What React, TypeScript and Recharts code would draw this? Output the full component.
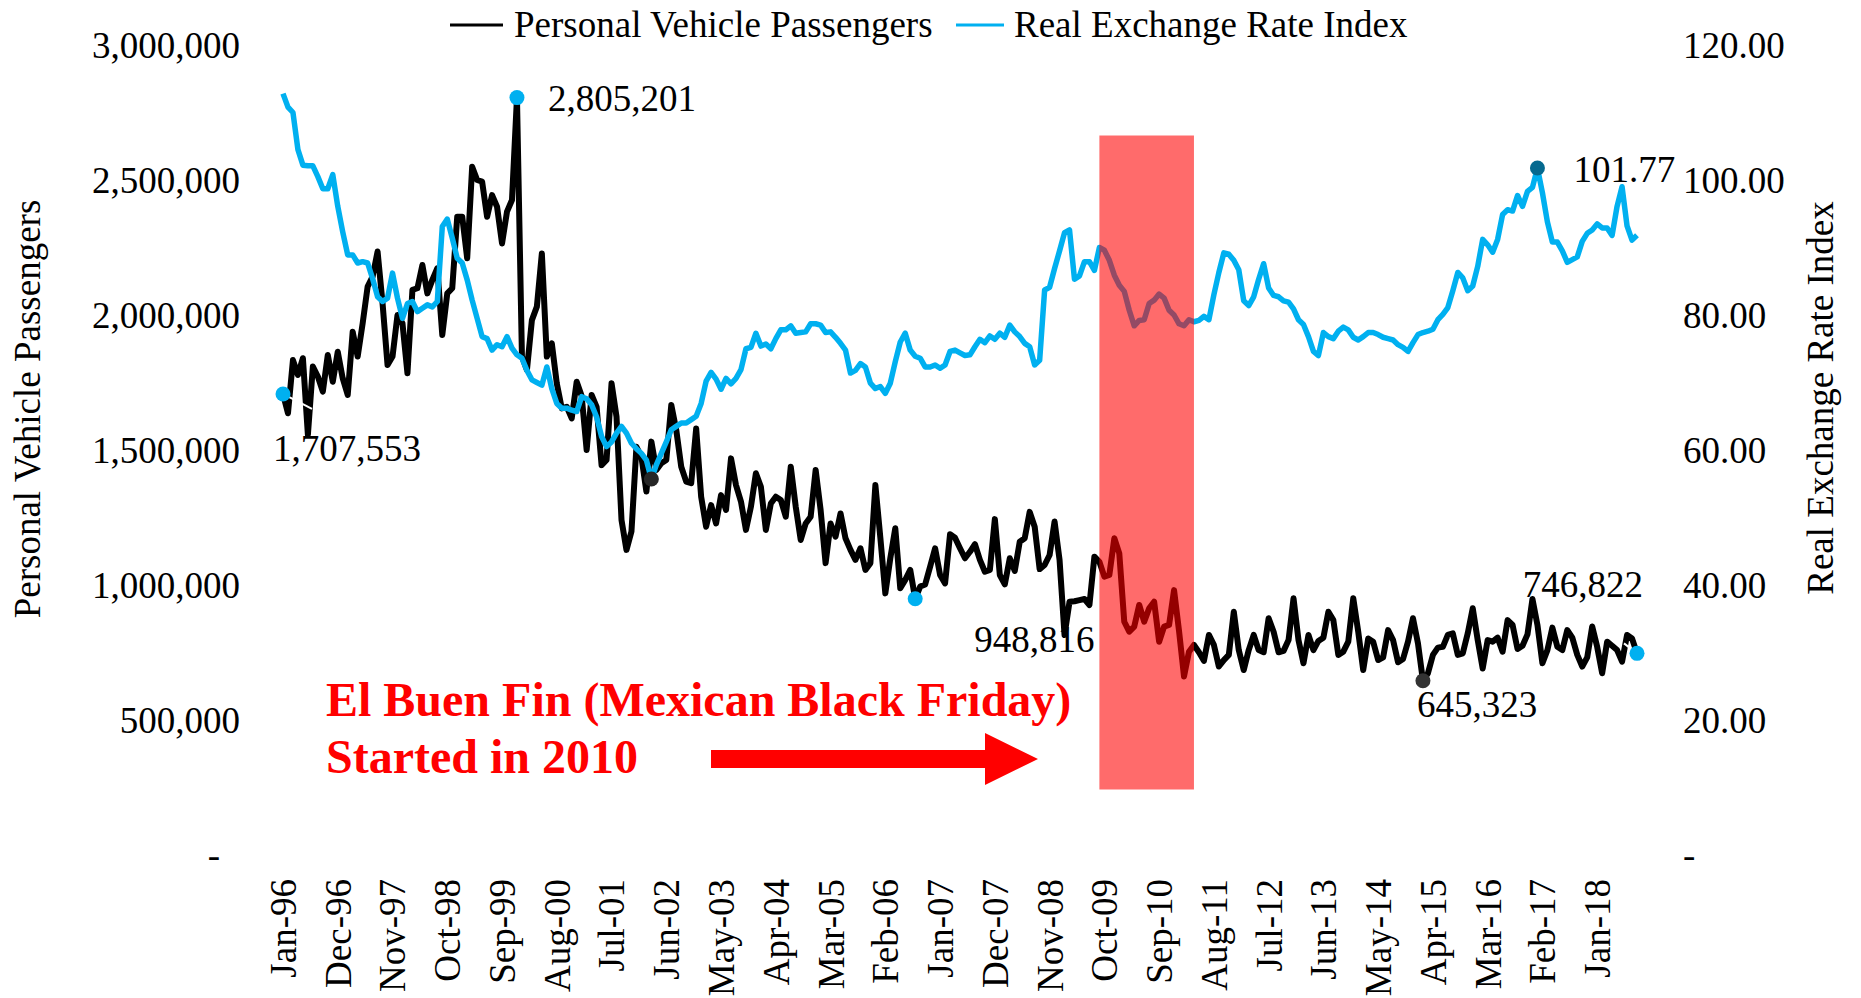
import { LineChart, Line, XAxis, YAxis, ReferenceArea } from 'recharts'

const MONTHS = ['Jan', 'Feb', 'Mar', 'Apr', 'May', 'Jun', 'Jul', 'Aug', 'Sep', 'Oct', 'Nov', 'Dec']

// monthly, Jan-96 .. Sep-18
const passengers = [
    1707553, 1636000, 1833000, 1778000, 1840000, 1556000, 1809000, 1772000, 1716000, 1852000,
    1753000, 1864000, 1765000, 1704000, 1938000, 1846000, 1969000, 2105000, 2142000, 2235000,
    2043000, 1815000, 1846000, 2000000, 1969000, 1784000, 2093000, 2099000, 2185000, 2080000,
    2130000, 2173000, 1926000, 2080000, 2099000, 2364000, 2364000, 2210000, 2549000, 2500000,
    2494000, 2364000, 2444000, 2401000, 2265000, 2383000, 2426000, 2805201, 1846000, 1796000,
    1981000, 2031000, 2228000, 1846000, 1895000, 1747000, 1654000, 1660000, 1617000, 1753000,
    1700000, 1500000, 1704000, 1660000, 1444000, 1463000, 1747000, 1623000, 1241000, 1130000,
    1198000, 1512000, 1475000, 1346000, 1531000, 1426000, 1451000, 1463000, 1667000, 1574000,
    1438000, 1383000, 1377000, 1580000, 1327000, 1216000, 1296000, 1228000, 1333000, 1278000,
    1469000, 1370000, 1309000, 1204000, 1290000, 1414000, 1364000, 1204000, 1302000, 1327000,
    1315000, 1253000, 1438000, 1290000, 1167000, 1228000, 1253000, 1426000, 1278000, 1081000,
    1228000, 1179000, 1265000, 1173000, 1130000, 1093000, 1136000, 1056000, 1081000, 1370000,
    1175000, 969000, 1099000, 1210000, 988000, 1019000, 1056000, 948816, 994000, 1002000,
    1068000, 1136000, 1037000, 1006000, 1188000, 1175000, 1136000, 1099000, 1123000, 1151000,
    1093000, 1049000, 1056000, 1244000, 1037000, 1002000, 1099000, 1052000, 1160000, 1173000,
    1271000, 1216000, 1059000, 1074000, 1111000, 1235000, 1093000, 815000, 938000, 940000,
    944000, 948000, 926000, 1105000, 1086000, 1031000, 1037000, 1173000, 1117000, 864000,
    827000, 846000, 926000, 864000, 914000, 938000, 790000, 846000, 852000, 981000,
    830000, 661000, 753000, 778000, 751000, 719000, 815000, 778000, 698000, 722000,
    741000, 901000, 759000, 685000, 759000, 815000, 759000, 751000, 877000, 827000,
    751000, 756000, 796000, 951000, 796000, 710000, 815000, 759000, 793000, 805000,
    901000, 870000, 741000, 753000, 790000, 951000, 827000, 685000, 802000, 790000,
    722000, 732000, 833000, 796000, 714000, 726000, 790000, 877000, 784000, 645323,
    673000, 741000, 768000, 771000, 815000, 821000, 741000, 747000, 821000, 914000,
    796000, 691000, 796000, 790000, 805000, 753000, 870000, 852000, 763000, 775000,
    817000, 948000, 852000, 710000, 759000, 842000, 771000, 759000, 833000, 805000,
    741000, 698000, 732000, 846000, 771000, 673000, 790000, 775000, 759000, 716000,
    815000, 802000, 746822,
]

const exchangeRate = [
    112.8, 110.8, 110.0, 104.5, 102.2, 102.1, 102.1, 100.5, 98.7, 98.7,
    100.8, 96.1, 92.3, 88.9, 88.9, 87.7, 87.9, 87.7, 85.4, 82.7,
    82.0, 82.5, 86.2, 82.5, 79.5, 81.7, 82.0, 80.5, 81.0, 81.5,
    81.2, 82.0, 93.1, 94.2, 91.4, 88.4, 87.7, 85.2, 82.2, 79.5,
    76.8, 76.5, 74.8, 75.6, 75.3, 76.8, 75.1, 74.1, 73.6, 71.8,
    70.4, 70.0, 69.6, 72.3, 69.1, 66.9, 66.2, 66.2, 65.9, 65.7,
    67.9, 67.6, 66.7, 64.9, 62.0, 60.5, 61.2, 62.5, 63.5, 62.5,
    61.0, 60.2, 59.5, 58.5, 55.7, 57.8, 59.5, 61.2, 63.0, 63.5,
    64.0, 64.0, 64.5, 65.0, 66.9, 70.2, 71.5, 70.5, 69.0, 70.6,
    69.8, 70.6, 71.9, 75.0, 75.2, 77.3, 75.4, 75.7, 75.0, 76.5,
    77.8, 77.8, 78.4, 77.3, 77.4, 77.5, 78.7, 78.7, 78.5, 77.4,
    77.5, 76.7, 75.8, 74.8, 71.4, 71.8, 72.8, 72.3, 69.9, 69.1,
    69.4, 68.4, 69.9, 73.1, 76.0, 77.3, 74.8, 73.9, 73.6, 72.3,
    72.3, 72.6, 72.1, 72.6, 74.6, 74.8, 74.4, 74.0, 74.1, 75.3,
    76.4, 75.9, 76.9, 76.4, 77.3, 76.7, 78.5, 77.5, 76.8, 75.8,
    75.3, 72.6, 73.3, 83.7, 84.1, 86.9, 89.5, 92.2, 92.6, 85.3,
    85.8, 87.9, 87.9, 86.6, 90.0, 89.6, 88.1, 85.9, 84.4, 83.5,
    80.7, 78.4, 79.2, 79.3, 81.7, 82.2, 83.1, 82.5, 80.7, 80.0,
    78.7, 78.4, 79.3, 79.0, 79.2, 79.8, 79.3, 83.0, 86.3, 89.2,
    89.0, 88.1, 86.7, 82.1, 81.4, 82.7, 85.3, 87.6, 84.0, 82.9,
    82.7, 82.1, 81.9, 80.9, 79.3, 78.6, 76.8, 74.6, 74.0, 77.4,
    76.8, 76.5, 77.6, 78.2, 77.8, 76.7, 76.3, 76.8, 77.4, 77.4,
    77.1, 76.7, 76.5, 76.3, 75.6, 75.2, 74.6, 75.9, 77.1, 77.4,
    77.6, 77.9, 79.3, 80.1, 81.1, 83.6, 86.3, 85.5, 83.6, 84.3,
    87.2, 91.2, 90.4, 89.3, 91.2, 94.9, 95.6, 95.4, 97.7, 96.1,
    98.3, 98.9, 101.77, 98.1, 93.8, 90.8, 90.8, 89.5, 87.8, 88.2,
    88.6, 90.9, 92.1, 92.6, 93.5, 92.9, 92.9, 91.8, 96.1, 99.0,
    93.2, 91.1, 91.8,
]

const monthLabels = passengers.map(
    (_, i) => `${MONTHS[i % 12]}-${String((96 + Math.floor(i / 12)) % 100).padStart(2, '0')}`
)

const leftTicks = [0, 500000, 1000000, 1500000, 2000000, 2500000, 3000000]
const rightTicks = [0, 20, 40, 60, 80, 100, 120]

// El Buen Fin shading
const shadeStart = 'Sep-09'
const shadeEnd = 'Apr-11'
const shadeLow = 243000
const shadeHigh = 2665000

const data = monthLabels.map((label, i) => ({
    label,
    passengers: passengers[i],
    rate: exchangeRate[i],
}))

const FONT = '"Liberation Serif", "Times New Roman", serif'
const BLUE = '#00B0F0'

type Callout = {
    index: number
    color: string
    text?: string
    dx?: number
    dy?: number
    anchor?: 'start' | 'end'
    leader?: [number, number]
}

const passengerCallouts: Callout[] = [
    { index: 0, color: BLUE, dx: -10, dy: 67, anchor: 'start', leader: [29, 15] },
    { index: 47, color: BLUE, dx: 31, dy: 13, anchor: 'start' },
    { index: 127, color: BLUE, dx: 59, dy: 53, anchor: 'start' },
    { index: 229, color: '#333333', dx: -6, dy: 36, anchor: 'start' },
    { index: 272, color: BLUE, dx: 6, dy: -56, anchor: 'end', leader: [-13, -10] },
].map((c) => ({ ...c, text: passengers[c.index].toLocaleString('en-US') })) as Callout[]

const rateCallouts: Callout[] = [
    { index: 74, color: '#262626' },
    { index: 252, color: '#05698F', dx: 36, dy: 14, anchor: 'start', text: exchangeRate[252].toFixed(2) },
]

const makeDot = (callouts: Callout[]) => (props: any) => {
    const { cx, cy, index } = props
    const c = callouts.find((m) => m.index === index)
    if (!c) return <g key={`dot-${index}`} />
    return (
        <g key={`dot-${index}`}>
            {c.leader && (
                <line x1={cx} y1={cy} x2={cx + c.leader[0]} y2={cy + c.leader[1]} stroke="#fff" strokeWidth={2} />
            )}
            <circle cx={cx} cy={cy} r={7.5} fill={c.color} />
            {c.text && (
                <text x={cx + (c.dx ?? 0)} y={cy + (c.dy ?? 0)} textAnchor={c.anchor} fontSize={37} fontFamily={FONT} fill="#000">
                    {c.text}
                </text>
            )}
        </g>
    )
}

const LeftTick = ({ x, y, payload }: any) => (
    <text x={payload.value === 0 ? x - 20 : x} y={y} dy="0.35em" textAnchor="end" fontSize={37} fontFamily={FONT} fill="#000">
        {payload.value === 0 ? '-' : Number(payload.value).toLocaleString('en-US')}
    </text>
)

const RightTick = ({ x, y, payload }: any) => (
    <text x={x} y={y} dy="0.35em" textAnchor="start" fontSize={37} fontFamily={FONT} fill="#000">
        {payload.value === 0 ? '-' : Number(payload.value).toFixed(2)}
    </text>
)

const BottomTick = ({ x, y, payload }: any) => (
    <text
        x={x}
        y={y}
        dy="0.35em"
        textAnchor="end"
        transform={`rotate(-90 ${x} ${y})`}
        fontSize={37}
        fontFamily={FONT}
        fill="#000"
    >
        {payload.value}
    </text>
)

const App = () => {
    return (
        <div style={{ position: 'absolute', left: 0, top: 0, width: 1861, height: 998, background: '#fff', overflow: 'hidden' }}>
            <LineChart width={1861} height={998} data={data} margin={{ top: 45, right: 0, bottom: 0, left: 0 }}>
                <XAxis
                    dataKey="label"
                    interval={10}
                    height={143}
                    axisLine={false}
                    tickLine={false}
                    tickSize={0}
                    tickMargin={24}
                    tick={<BottomTick />}
                />
                <YAxis
                    yAxisId="left"
                    width={283}
                    domain={[0, 3000000]}
                    ticks={leftTicks}
                    interval={0}
                    axisLine={false}
                    tickLine={false}
                    tickSize={0}
                    tickMargin={43}
                    tick={<LeftTick />}
                />
                <YAxis
                    yAxisId="right"
                    orientation="right"
                    width={224}
                    domain={[0, 120]}
                    ticks={rightTicks}
                    interval={0}
                    axisLine={false}
                    tickLine={false}
                    tickSize={0}
                    tickMargin={46}
                    tick={<RightTick />}
                />
                <Line
                    yAxisId="left"
                    type="linear"
                    dataKey="passengers"
                    stroke="#000"
                    strokeWidth={6}
                    strokeLinejoin="round"
                    dot={makeDot(passengerCallouts)}
                    activeDot={false}
                    isAnimationActive={false}
                />
                <Line
                    yAxisId="right"
                    type="linear"
                    dataKey="rate"
                    stroke={BLUE}
                    strokeWidth={5.5}
                    strokeLinejoin="round"
                    dot={makeDot(rateCallouts)}
                    activeDot={false}
                    isAnimationActive={false}
                />
                <ReferenceArea
                    yAxisId="left"
                    x1={shadeStart}
                    x2={shadeEnd}
                    y1={shadeLow}
                    y2={shadeHigh}
                    fill="#FF0000"
                    fillOpacity={0.58}
                    stroke="none"
                    zIndex={600}
                />
            </LineChart>
            <svg
                width={1861}
                height={998}
                style={{ position: 'absolute', left: 0, top: 0, pointerEvents: 'none' }}
                fontFamily={FONT}
            >
                {/* legend */}
                <line x1={450} y1={25} x2={503} y2={25} stroke="#000" strokeWidth={3} />
                <text x={514} y={37} fontSize={37} fill="#000">Personal Vehicle Passengers</text>
                <line x1={956} y1={25} x2={1004} y2={25} stroke={BLUE} strokeWidth={3} />
                <text x={1014} y={37} fontSize={37} fill="#000">Real Exchange Rate Index</text>

                {/* axis titles */}
                <text x={40} y={409} fontSize={37} fill="#000" textAnchor="middle" transform="rotate(-90 40 409)">
                    Personal Vehicle Passengers
                </text>
                <text x={1833} y={398} fontSize={37} fill="#000" textAnchor="middle" transform="rotate(-90 1833 398)">
                    Real Exchange Rate Index
                </text>

                {/* annotation */}
                <text x={326} y={716} fontSize={48} fontWeight="bold" fill="#FF0000">
                    El Buen Fin (Mexican Black Friday)
                </text>
                <text x={326} y={773} fontSize={48} fontWeight="bold" fill="#FF0000">
                    Started in 2010
                </text>
                <polygon
                    points="711,750 985,750 985,733 1038,759 985,785 985,768 711,768"
                    fill="#FF0000"
                />
            </svg>
        </div>
    )
}

export default App
